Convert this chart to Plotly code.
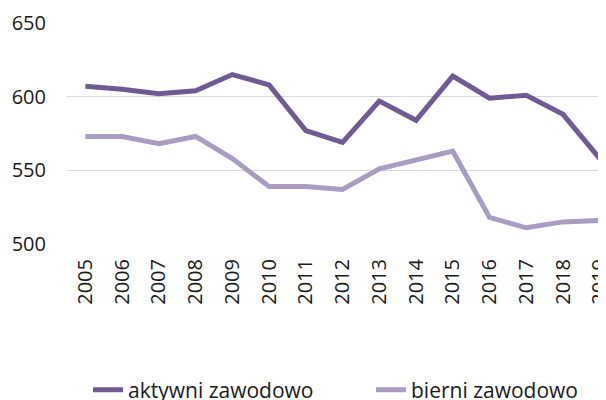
import plotly.graph_objects as go

years = [str(y) for y in range(2005, 2020)]
aktywni = [607, 605, 602, 604, 615, 608, 577, 569, 597, 584, 614, 599, 601, 588, 558]
bierni = [573, 573, 568, 573, 558, 539, 539, 537, 551, 557, 563, 518, 511, 515, 516]

fig = go.Figure()
fig.add_trace(go.Scatter(x=years, y=aktywni, mode="lines", name="aktywni zawodowo",
                         line=dict(color="#705a93", width=5), legend="legend"))
fig.add_trace(go.Scatter(x=years, y=bierni, mode="lines", name="bierni zawodowo",
                         line=dict(color="#a99cc2", width=5), legend="legend2"))

FONT = "Open Sans"
leg_common = dict(orientation="h", xanchor="left", y=-0.661, yanchor="middle",
                  font=dict(size=21), bgcolor="rgba(0,0,0,0)")
fig.update_layout(
    width=598, height=392,
    margin=dict(l=59, r=0, t=15, b=156, autoexpand=False),
    paper_bgcolor="white", plot_bgcolor="white",
    font=dict(family=FONT, size=20, color="#1a1a1a"),
    showlegend=True,
    legend=dict(x=0.039, **leg_common),
    legend2=dict(x=0.564, **leg_common),
    xaxis=dict(type="category", range=[-0.5, 14.17], tickangle=-90, showgrid=False,
               showline=False, ticks="", tickfont=dict(size=20), automargin=False,
               ticklabelstandoff=10),
    yaxis=dict(range=[500, 650], tickvals=[500, 550, 600, 650], showgrid=True,
               gridcolor="#d9d9d9", gridwidth=1, zeroline=False, showline=False,
               ticks="", ticklabelstandoff=20, tickfont=dict(size=20), automargin=False),
)
fig.write_html("out.html")
